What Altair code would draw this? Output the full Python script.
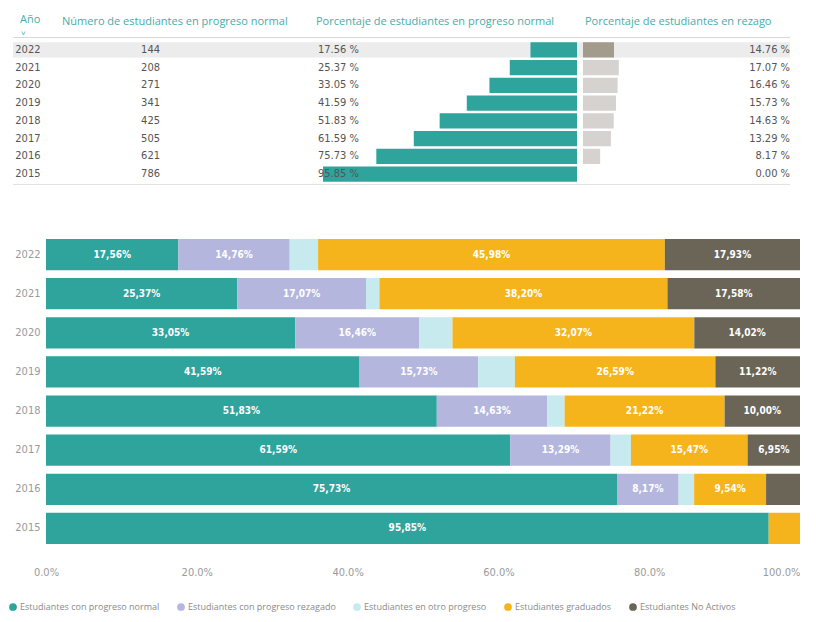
import altair as alt
import pandas as pd

# ---------------- data ----------------
years = ["2022", "2021", "2020", "2019", "2018", "2017", "2016", "2015"]
n_normal = [144, 208, 271, 341, 425, 505, 621, 786]
pct_normal = [17.56, 25.37, 33.05, 41.59, 51.83, 61.59, 75.73, 95.85]
pct_rezago = [14.76, 17.07, 16.46, 15.73, 14.63, 13.29, 8.17, 0.00]
pct_otro = [3.77, 1.78, 4.40, 4.87, 2.32, 2.70, 2.06, 0.00]
pct_grad = [45.98, 38.20, 32.07, 26.59, 21.22, 15.47, 9.54, 4.15]
pct_noact = [17.93, 17.58, 14.02, 11.22, 10.00, 6.95, 4.50, 0.00]
categories = ["Estudiantes con progreso normal", "Estudiantes con progreso rezagado",
              "Estudiantes en otro progreso", "Estudiantes graduados", "Estudiantes No Activos"]
col_headers = ["Año", "Número de estudiantes en progreso normal",
               "Porcentaje de estudiantes en progreso normal", "Porcentaje de estudiantes en rezago"]
x_ticks = [0, 20, 40, 60, 80, 100]
selected_year = "2022"

colors = ["#2fa49c", "#b4b6dd", "#c6eaee", "#f6b41c", "#6b6558"]
FONT = "Liberation Sans Narrow, DejaVu Sans Condensed, Open Sans, sans-serif"
HFONT = "Open Sans, sans-serif"
HEAD = "#45aea8"
TXT = "#555555"
AX = "#9a9a9a"

tab = pd.DataFrame({
    "anio": years,
    "n": n_normal,
    "pn": pct_normal,
    "pr": pct_rezago,
})
tab["pn_txt"] = [f"{v:.2f} %" for v in pct_normal]
tab["pr_txt"] = [f"{v:.2f} %" for v in pct_rezago]

series = [pct_normal, pct_rezago, pct_otro, pct_grad, pct_noact]
rows = []
for ci, (cat, vals) in enumerate(zip(categories, series)):
    for y, v in zip(years, vals):
        rows.append({"anio": y, "cat": cat, "ord": ci, "val": v,
                     "label": (f"{v:.2f}%".replace(".", ",") if v >= 6 else "")})
long = pd.DataFrame(rows)
one = pd.DataFrame({"k": [0]})

# ---------------- table (top) ----------------
W2, W3, W4, HT = 266, 268, 210, 142
tscale = alt.Scale(domain=years, paddingInner=0.14, paddingOuter=0.07)
y_axis = alt.Axis(title=None, labelColor=TXT, labelFont=FONT, labelFontSize=11,
                  labelPadding=6, zindex=1)
yT_ax = alt.Y("anio:N", sort=years, scale=tscale, axis=y_axis)
yT = alt.Y("anio:N", sort=years, scale=tscale, axis=None)


def header(text, dx, dy=-19, size=11):
    return alt.Chart(one).mark_text(text=text, align="left", baseline="middle", font=HFONT,
                                    fontSize=size, color=HEAD).encode(
        x=alt.value(dx), y=alt.value(dy))


def frame_rules(width, left=0):
    top = alt.Chart(one).mark_rect(color="#d8d8d8").encode(
        y=alt.value(-4), y2=alt.value(-3), x=alt.value(left), x2=alt.value(width))
    bot = alt.Chart(one).mark_rect(color="#e2e2e2").encode(
        y=alt.value(HT + 1), y2=alt.value(HT + 2), x=alt.value(left), x2=alt.value(width))
    return top, bot


tb = alt.Chart(tab)
sel = alt.datum.anio == selected_year

# column 2 : number of students (+ year axis)
hl2 = tb.transform_filter(sel).mark_rect(color="#ececec").encode(
    y=yT_ax, x=alt.value(-33), x2=alt.value(W2))
num2 = tb.mark_text(align="right", font=FONT, fontSize=11, color=TXT).encode(
    y=yT_ax, x=alt.value(114), text=alt.Text("n:Q"))
r2a, r2b = frame_rules(W2, -33)
h2a = header(col_headers[0], -26, -21)
h2arrow = header("˅", -25, -7, 8)
h2b = header(col_headers[1], 16)
col2 = alt.layer(hl2, r2a, r2b, num2, h2a, h2arrow, h2b).properties(width=W2, height=HT)

# column 3 : % normal with data bars
hl3 = tb.transform_filter(sel).mark_rect(color="#ececec").encode(
    y=yT, x=alt.value(0), x2=alt.value(W3))
bar3 = tb.mark_bar(color="#2fa49c").encode(
    y=yT, x=alt.X("pn:Q", scale=alt.Scale(domain=[0, 100], range=[W3 - 3, 0]), axis=None))
txt3 = tb.mark_text(align="left", font=FONT, fontSize=11, color=TXT).encode(
    y=yT, x=alt.value(6), text="pn_txt:N")
r3a, r3b = frame_rules(W3)
h3 = header(col_headers[2], 4)
col3 = alt.layer(hl3, r3a, r3b, bar3, txt3, h3).properties(width=W3, height=HT)

# column 4 : % rezago with data bars
hl4 = tb.transform_filter(sel).mark_rect(color="#ececec").encode(
    y=yT, x=alt.value(0), x2=alt.value(W4))
bar4 = tb.mark_bar().encode(
    y=yT, x=alt.X("pr:Q", scale=alt.Scale(domain=[0, 100], range=[3, W4 + 3]), axis=None),
    color=alt.condition(sel, alt.value("#a39b8b"), alt.value("#d6d2d0")))
txt4 = tb.mark_text(align="right", font=FONT, fontSize=11, color=TXT).encode(
    y=yT, x=alt.value(W4), text="pr_txt:N")
r4a, r4b = frame_rules(W4)
h4 = header(col_headers[3], 5)
col4 = alt.layer(hl4, r4a, r4b, bar4, txt4, h4).properties(width=W4, height=HT)

table = alt.hconcat(col2, col3, col4, spacing=0)

# ---------------- stacked bar (bottom) ----------------
WB, HB = 754, 313
bb = alt.Chart(long).transform_stack(
    stack="val", groupby=["anio"], as_=["x0", "x1"], sort=[alt.SortField("ord", order="ascending")]
).transform_calculate(mid="(datum.x0 + datum.x1) / 2")

yB = alt.Y("anio:N", sort=years, title=None,
           scale=alt.Scale(paddingInner=0.2, paddingOuter=0.1),
           axis=alt.Axis(labelColor=AX, labelFont=FONT, labelFontSize=11, labelPadding=6))
xB = alt.X("x0:Q", title=None, scale=alt.Scale(domain=[0, 100], nice=False),
           axis=alt.Axis(values=x_ticks, labelExpr="format(datum.value, '.1f') + '%'",
                         labelColor=AX, labelFont=FONT, labelFontSize=11, labelPadding=18,
                         labelAlign={"condition": {"test": "datum.value == 100", "value": "right"},
                                     "value": "center"}))

bars = bb.mark_bar().encode(
    y=yB, x=xB, x2="x1:Q",
    color=alt.Color("cat:N", scale=alt.Scale(domain=categories, range=colors),
                    legend=alt.Legend(title=None, orient="none", direction="horizontal",
                                      legendX=-38, legendY=561, symbolType="circle",
                                      symbolSize=60, labelColor="#8a8a8a", labelFont=HFONT,
                                      labelFontSize=9, columnPadding=16, symbolOffset=0,
                                      labelOffset=2)),
    order=alt.Order("ord:Q"),
)
labels = bb.mark_text(color="white", font=FONT, fontSize=10, fontWeight="bold").encode(
    y=yB, x=alt.X("mid:Q"), text="label:N")

bottom = alt.layer(bars, labels).properties(width=WB, height=HB)

chart = alt.vconcat(table, bottom, spacing=50).properties(
    padding={"left": 0, "top": 6, "right": 0, "bottom": 0}
).configure_view(stroke=None).configure_axis(
    domain=False, ticks=False, grid=False
)

chart.save("out.html", embed_options={"renderer": "svg", "actions": False})
